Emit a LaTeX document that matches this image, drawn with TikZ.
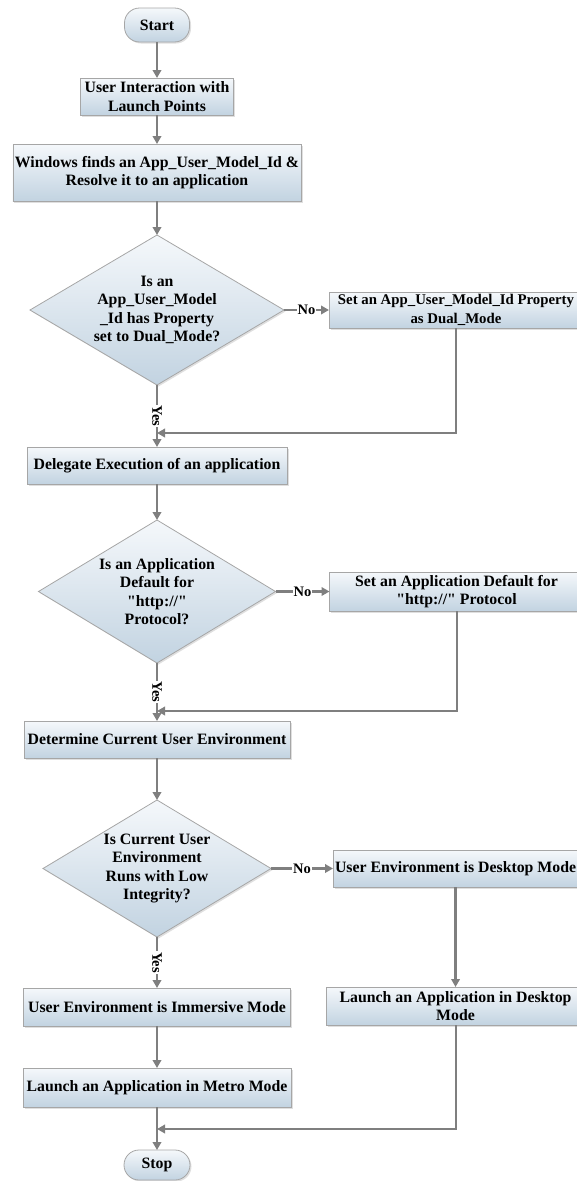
\documentclass[tikz,border=0pt]{standalone}
\usepackage{fontspec}
\setmainfont{Liberation Serif}
\usetikzlibrary{arrows.meta, positioning, shapes.geometric, shadows}
\definecolor{boxtop}{HTML}{F5F8FB}
\definecolor{boxbot}{HTML}{C2D3E1}
\definecolor{edgegray}{HTML}{A6A6A6}
\definecolor{flowgray}{HTML}{7F7F7F}

\begin{document}
\begin{tikzpicture}[x=1pt, y=-1pt,
      every node/.style={font=\fontsize{15.8}{18.3}\selectfont\bfseries, align=center, outer sep=0pt},
      boxfill/.style={draw=edgegray, line width=0.8pt, top color=boxtop, bottom color=boxbot,
                      drop shadow={opacity=0.25, shadow xshift=1.5pt, shadow yshift=-1.5pt}},
      procbox/.style={boxfill, rectangle, inner sep=2pt},
      decision/.style={boxfill, diamond, inner xsep=0pt, inner ysep=-6pt},
      terminal/.style={boxfill, rectangle, rounded corners=15pt, minimum width=65pt},
      arr/.style={-{Triangle[length=8pt, width=8.5pt]}, line width=2.5pt, draw=flowgray},
      mergeline/.style={-{Triangle[length=8pt, width=8.5pt]}, line width=2pt, draw=flowgray},
      lbl/.style={fill=white, inner sep=1pt, font=\fontsize{14.5}{16}\selectfont\bfseries}
    ]
    \useasboundingbox (0,0) rectangle (577,1181);
    % main column
    \node[terminal, minimum height=34pt] (start) at (157,25) {Start};
    \node[procbox, minimum width=153pt, minimum height=37pt, below=36pt of start] (touch) {User Interaction with\\Launch Points};
    \node[procbox, minimum width=287pt, minimum height=57pt, below=29pt of touch] (resolve) {Windows finds an App\_User\_Model\_Id \&\\Resolve it to an application};
    \node[decision, minimum width=254pt, minimum height=150pt, aspect=1.7, below=34pt of resolve] (dualq) {Is an\\App\_User\_Model\\\_Id has Property\\set to Dual\_Mode?};
    \node[procbox, minimum width=260pt, minimum height=37pt, below=62pt of dualq] (delegate) {Delegate Execution of an application};
    \node[decision, minimum width=237pt, minimum height=143pt, aspect=1.66, below=36pt of delegate] (httpq) {Is an Application\\Default for\\\textquotedbl http://\textquotedbl\\Protocol?};
    \node[procbox, minimum width=266pt, minimum height=37pt, below=58pt of httpq] (envcheck) {Determine Current User Environment};
    \node[decision, minimum width=228pt, minimum height=137pt, aspect=1.66, below=42pt of envcheck] (lowq) {Is Current User\\Environment\\Runs with Low\\Integrity?};
    \node[procbox, minimum width=267pt, minimum height=38pt, below=51pt of lowq] (immersive) {User Environment is Immersive Mode};
    \node[procbox, minimum width=268pt, minimum height=39pt, below=42pt of immersive] (metro) {Launch an Application in Metro Mode};
    \node[terminal, minimum width=66pt, minimum height=30pt, below=43pt of metro] (stop) {Stop};
    % right column
    \node[procbox, minimum width=254pt, minimum height=36pt, right=45pt of dualq,
          font=\fontsize{14.8}{18.3}\selectfont\bfseries] (dualset) {Set an App\_User\_Model\_Id Property\\as Dual\_Mode};
    \node[procbox, minimum width=254pt, minimum height=39pt, right=54pt of httpq] (httpset) {Set an Application Default for\\\textquotedbl http://\textquotedbl{} Protocol};
    \node[procbox, minimum width=243pt, minimum height=37pt, right=62pt of lowq] (desktop) {User Environment is Desktop Mode};
    \node[procbox, minimum width=258pt, minimum height=38pt, below=100pt of desktop] (launchdesk) {Launch an Application in Desktop\\Mode};

    \coordinate (m1) at ([yshift=14pt]delegate.north);
    \coordinate (m2) at ([yshift=10pt]envcheck.north);
    \coordinate (m3) at ([yshift=21pt]stop.north);

    \draw[arr] (start) -- (touch);
    \draw[arr] (touch) -- (resolve);
    \draw[arr] (resolve) -- (dualq);
    \draw[arr] (dualq) -- node[lbl, rotate=-90] {Yes} (delegate);
    \draw[arr] (dualq) -- node[lbl] {No} (dualset);
    \draw[mergeline] (dualset) |- (m1);
    \draw[arr] (delegate) -- (httpq);
    \draw[arr] (httpq) -- node[lbl, rotate=-90] {Yes} (envcheck);
    \draw[arr] (httpq) -- node[lbl] {No} (httpset);
    \draw[mergeline] (httpset) |- (m2);
    \draw[arr] (envcheck) -- (lowq);
    \draw[arr] (lowq) -- node[lbl, rotate=-90] {Yes} (immersive);
    \draw[arr] (lowq) -- node[lbl] {No} (desktop);
    \draw[arr] (desktop) -- (launchdesk);
    \draw[arr] (immersive) -- (metro);
    \draw[arr] (metro) -- (stop);
    \draw[mergeline] (launchdesk) |- (m3);
  \end{tikzpicture}
\end{document}
